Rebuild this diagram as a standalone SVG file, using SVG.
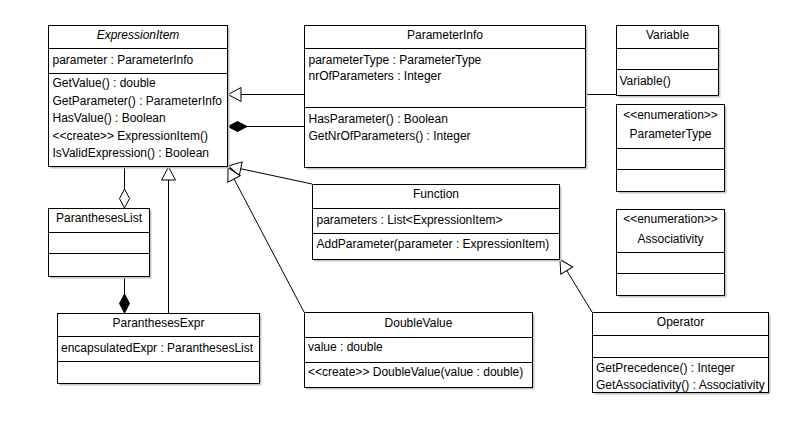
<svg xmlns="http://www.w3.org/2000/svg" width="800" height="440" viewBox="0 0 800 440">
<style>
.bg{fill:#fff}
.box{fill:#fff;stroke:#000;stroke-width:1}
.sh{fill:#c4c4c4}
.sep{stroke:#000;stroke-width:1}
.ln{stroke:#000;stroke-width:1;fill:none}
text{font-family:"Liberation Sans",Arial,sans-serif;font-size:12px;fill:#000}
.c{text-anchor:middle}
.i{font-style:italic}
</style>
<defs>
<marker id="gen" markerUnits="userSpaceOnUse" orient="auto" viewBox="-14 -8 15 16" refX="0" refY="0" markerWidth="15" markerHeight="16" overflow="visible">
<path d="M0,0 L-13,-7 L-13,7 Z" fill="#fff" stroke="#000" stroke-width="1"/>
</marker>
<marker id="comp" markerUnits="userSpaceOnUse" orient="auto" viewBox="-20 -6 21 12" refX="0" refY="0" markerWidth="21" markerHeight="12" overflow="visible">
<path d="M0,0 L-9.5,-5 L-19,0 L-9.5,5 Z" fill="#000" stroke="#000" stroke-width="1"/>
</marker>
<marker id="agg" markerUnits="userSpaceOnUse" orient="auto" viewBox="-20 -6 21 12" refX="0" refY="0" markerWidth="21" markerHeight="12" overflow="visible">
<path d="M0,0 L-9.5,-5 L-19,0 L-9.5,5 Z" fill="#fff" stroke="#000" stroke-width="1"/>
</marker>
</defs>
<rect class="bg" x="0" y="0" width="800" height="440"/>

<g id="connectors">
<line class="ln" x1="616" y1="94.5" x2="228" y2="94.5" marker-end="url(#gen)"/>
<line class="ln" x1="304" y1="126.5" x2="228" y2="126.5" marker-end="url(#comp)"/>
<line class="ln" x1="124.5" y1="167" x2="124.5" y2="208" marker-end="url(#agg)"/>
<line class="ln" x1="124.5" y1="277" x2="124.5" y2="313" marker-end="url(#comp)"/>
<line class="ln" x1="168.5" y1="313" x2="168.5" y2="167" marker-end="url(#gen)"/>
<line class="ln" x1="312" y1="184" x2="228" y2="166" marker-end="url(#gen)"/>
<line class="ln" x1="304" y1="312" x2="228" y2="167.5" marker-end="url(#gen)"/>
<line class="ln" x1="592" y1="312" x2="560" y2="259.5" marker-end="url(#gen)"/>
</g>

<g id="ExpressionItem">
<rect class="sh" x="50.5" y="27.5" width="179" height="141"/>
<rect class="box" x="48.5" y="25.5" width="179" height="141"/>
<line class="sep" x1="48.5" y1="48.5" x2="227.5" y2="48.5"/>
<line class="sep" x1="48.5" y1="73.5" x2="227.5" y2="73.5"/>
<text class="c i" x="138" y="38.5">ExpressionItem</text>
<text x="52.5" y="63.5">parameter : ParameterInfo</text>
<text x="52.5" y="87">GetValue() : double</text>
<text x="52.5" y="104.5">GetParameter() : ParameterInfo</text>
<text x="52.5" y="122">HasValue() : Boolean</text>
<text x="52.5" y="139.5">&lt;&lt;create&gt;&gt; ExpressionItem()</text>
<text x="52.5" y="156.5">IsValidExpression() : Boolean</text>
</g>

<g id="ParameterInfo">
<rect class="sh" x="306.5" y="27.5" width="281" height="142"/>
<rect class="box" x="304.5" y="25.5" width="281" height="142"/>
<line class="sep" x1="304.5" y1="48.5" x2="585.5" y2="48.5"/>
<line class="sep" x1="304.5" y1="107.5" x2="585.5" y2="107.5"/>
<text class="c" x="445" y="38.5">ParameterInfo</text>
<text x="308.5" y="63.5">parameterType : ParameterType</text>
<text x="308.5" y="79.5">nrOfParameters : Integer</text>
<text x="308.5" y="122.5">HasParameter() : Boolean</text>
<text x="308.5" y="139.5">GetNrOfParameters() : Integer</text>
</g>

<g id="Variable">
<rect class="sh" x="618.5" y="27.5" width="102" height="70"/>
<rect class="box" x="616.5" y="25.5" width="102" height="70"/>
<line class="sep" x1="616.5" y1="48.5" x2="718.5" y2="48.5"/>
<line class="sep" x1="616.5" y1="69.5" x2="718.5" y2="69.5"/>
<text class="c" x="667.5" y="38.5">Variable</text>
<text x="619.5" y="85">Variable()</text>
</g>

<g id="ParameterType">
<rect class="sh" x="618.5" y="106.5" width="108" height="87"/>
<rect class="box" x="616.5" y="104.5" width="108" height="87"/>
<line class="sep" x1="616.5" y1="148.5" x2="724.5" y2="148.5"/>
<line class="sep" x1="616.5" y1="169.5" x2="724.5" y2="169.5"/>
<text class="c" x="670.5" y="119" font-size="11.5">&lt;&lt;enumeration&gt;&gt;</text>
<text class="c" x="670.5" y="137.5">ParameterType</text>
</g>

<g id="Associativity">
<rect class="sh" x="618.5" y="211.5" width="108" height="86"/>
<rect class="box" x="616.5" y="209.5" width="108" height="86"/>
<line class="sep" x1="616.5" y1="252.5" x2="724.5" y2="252.5"/>
<line class="sep" x1="616.5" y1="273.5" x2="724.5" y2="273.5"/>
<text class="c" x="670.5" y="223" font-size="11.5">&lt;&lt;enumeration&gt;&gt;</text>
<text class="c" x="670.5" y="242.5">Associativity</text>
</g>

<g id="ParanthesesList">
<rect class="sh" x="50.5" y="210.5" width="101" height="68"/>
<rect class="box" x="48.5" y="208.5" width="101" height="68"/>
<line class="sep" x1="48.5" y1="232.5" x2="149.5" y2="232.5"/>
<line class="sep" x1="48.5" y1="253.5" x2="149.5" y2="253.5"/>
<text class="c" x="99" y="222">ParanthesesList</text>
</g>

<g id="ParanthesesExpr">
<rect class="sh" x="59.5" y="315.5" width="202" height="70"/>
<rect class="box" x="57.5" y="313.5" width="202" height="70"/>
<line class="sep" x1="57.5" y1="336.5" x2="259.5" y2="336.5"/>
<line class="sep" x1="57.5" y1="361.5" x2="259.5" y2="361.5"/>
<text class="c" x="158.5" y="326.5">ParanthesesExpr</text>
<text x="61" y="351.5">encapsulatedExpr : ParanthesesList</text>
</g>

<g id="Function">
<rect class="sh" x="314.5" y="186.5" width="247" height="75"/>
<rect class="box" x="312.5" y="184.5" width="247" height="75"/>
<line class="sep" x1="312.5" y1="208.5" x2="559.5" y2="208.5"/>
<line class="sep" x1="312.5" y1="233.5" x2="559.5" y2="233.5"/>
<text class="c" x="436" y="198">Function</text>
<text x="316.5" y="223.5">parameters : List&lt;ExpressionItem&gt;</text>
<text x="316.5" y="248">AddParameter(parameter : ExpressionItem)</text>
</g>

<g id="DoubleValue">
<rect class="sh" x="306.5" y="314.5" width="228" height="75"/>
<rect class="box" x="304.5" y="312.5" width="228" height="75"/>
<line class="sep" x1="304.5" y1="337.5" x2="532.5" y2="337.5"/>
<line class="sep" x1="304.5" y1="362.5" x2="532.5" y2="362.5"/>
<text class="c" x="418.5" y="326.5">DoubleValue</text>
<text x="308" y="351">value : double</text>
<text x="308" y="376">&lt;&lt;create&gt;&gt; DoubleValue(value : double)</text>
</g>

<g id="Operator">
<rect class="sh" x="594.5" y="314.5" width="176" height="80"/>
<rect class="box" x="592.5" y="312.5" width="176" height="80"/>
<line class="sep" x1="592.5" y1="335.5" x2="768.5" y2="335.5"/>
<line class="sep" x1="592.5" y1="357.5" x2="768.5" y2="357.5"/>
<text class="c" x="680.5" y="326">Operator</text>
<text x="596" y="372">GetPrecedence() : Integer</text>
<text x="596" y="388.5">GetAssociativity() : Associativity</text>
</g>
</svg>
